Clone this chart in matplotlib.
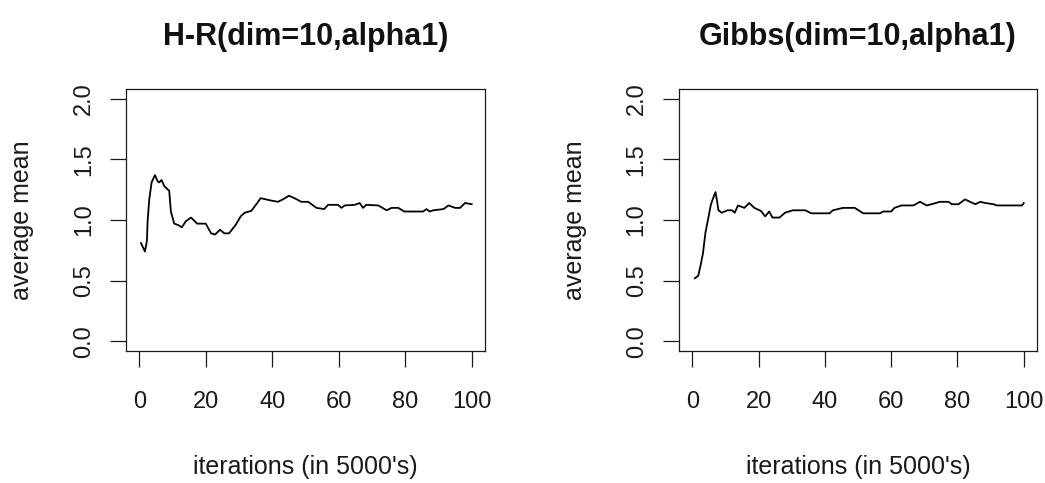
import matplotlib.pyplot as plt

plt.rcParams['font.family'] = ['Liberation Sans', 'DejaVu Sans']

# H-R sampler, average mean vs iterations (in 5000's)
hr_x = [0.5, 1.7, 2.3, 2.5, 3.0, 3.7, 4.7, 5.5, 6.0, 6.7, 7.5, 9.0, 9.5, 10.5, 11.6,
        12.8, 14.0, 15.6, 17.4, 20.0, 21.6, 22.8, 24.3, 25.6, 27.0, 29.0, 30.5,
        31.7, 33.7, 35.2, 36.5, 39.7, 41.7, 43.2, 45.0, 46.7, 48.7, 50.8, 53.3,
        55.6, 56.8, 59.8, 60.8, 61.8, 64.8, 66.3, 67.3, 68.3, 71.9, 74.4, 75.9,
        77.9, 79.7, 85.4, 86.4, 87.4, 88.4, 91.5, 93.0, 95.0, 96.5, 98.0, 100.0]
hr_y = [0.81, 0.74, 0.83, 0.99, 1.17, 1.31, 1.37, 1.32, 1.31, 1.33, 1.28, 1.24,
        1.07, 0.97, 0.96, 0.94, 0.99, 1.02, 0.97, 0.97, 0.89, 0.88, 0.92, 0.89,
        0.89, 0.96, 1.03, 1.06, 1.075, 1.13, 1.18, 1.16, 1.15, 1.17, 1.20, 1.18,
        1.15, 1.15, 1.10, 1.09, 1.125, 1.125, 1.10, 1.12, 1.125, 1.14, 1.10,
        1.125, 1.12, 1.08, 1.10, 1.10, 1.07, 1.07, 1.09, 1.07, 1.08, 1.09, 1.12,
        1.10, 1.10, 1.14, 1.13]

# Gibbs sampler
gibbs_x = [0.8, 1.8, 2.5, 3.2, 4.0, 4.8, 5.6, 6.3, 7.0, 7.4, 7.9, 8.9, 10.6, 12.0,
           12.8, 13.8, 15.7, 17.2, 18.7, 20.7, 22.0, 23.2, 24.2, 26.3, 28.0, 30.3,
           34.1, 35.9, 37.4, 41.4, 42.4, 45.5, 49.0, 51.6, 56.6, 57.6, 60.0, 61.0,
           63.1, 66.7, 68.7, 70.7, 72.2, 74.7, 77.3, 78.3, 80.3, 82.3, 83.8, 85.4,
           86.9, 88.4, 90.9, 91.9, 99.5, 100.0]
gibbs_y = [0.52, 0.54, 0.625, 0.72, 0.90, 1.01, 1.125, 1.18, 1.23, 1.17, 1.08, 1.06,
           1.08, 1.08, 1.06, 1.12, 1.10, 1.14, 1.10, 1.075, 1.03, 1.07, 1.02, 1.02,
           1.06, 1.08, 1.08, 1.055, 1.055, 1.055, 1.08, 1.10, 1.10, 1.055, 1.055,
           1.07, 1.07, 1.10, 1.12, 1.12, 1.15, 1.12, 1.13, 1.15, 1.15, 1.13, 1.13,
           1.17, 1.15, 1.13, 1.15, 1.14, 1.13, 1.12, 1.12, 1.14]

titles = ['H-R(dim=10,alpha1)', 'Gibbs(dim=10,alpha1)']
x_ticks = [0, 20, 40, 60, 80, 100]
y_ticks = [0.0, 0.5, 1.0, 1.5, 2.0]
y_tick_labels = ['0.0', '0.5', '1.0', '1.5', '2.0']


def style_axes(ax, title):
    ax.set_xlim(-4, 104)
    ax.set_ylim(-0.08, 2.08)
    ax.set_xticks(x_ticks)
    ax.set_yticks(y_ticks)
    ax.set_yticklabels(y_tick_labels)
    ax.tick_params(direction='out', length=11.5, width=0.9, labelsize=17,
                   pad=17, colors='#1a1a1a')
    ax.tick_params(axis='y', labelrotation=90, pad=11)
    for lab in ax.get_yticklabels():
        lab.set_va('center')
    for sp in ax.spines.values():
        sp.set_linewidth(0.9)
        sp.set_color('#1a1a1a')
    ax.set_xlabel("iterations (in 5000's)", fontsize=18, color='#1a1a1a')
    ax.set_ylabel('average mean', fontsize=18, color='#1a1a1a')
    ax.xaxis.set_label_coords(0.5, -0.443)
    ax.xaxis.label.set_va('center')
    ax.yaxis.set_label_coords(-0.29, 0.5)
    ax.yaxis.label.set_va('center')
    ax.text(0.5, 1.2, title, transform=ax.transAxes, ha='center', va='center',
            fontsize=22, fontweight='bold', color='#111111')


fig = plt.figure(figsize=(10.45, 4.83), dpi=100)
W, H = 1045, 483
ax1 = fig.add_axes([126 / W, 1 - 351 / H, 359 / W, 262 / H])
ax2 = fig.add_axes([679 / W, 1 - 351 / H, 358 / W, 262 / H])

ax1.plot(hr_x, hr_y, color='black', linewidth=1.3)
ax2.plot(gibbs_x, gibbs_y, color='black', linewidth=1.3)
style_axes(ax1, titles[0])
style_axes(ax2, titles[1])

fig.savefig('out.png', dpi=100, facecolor='white')
